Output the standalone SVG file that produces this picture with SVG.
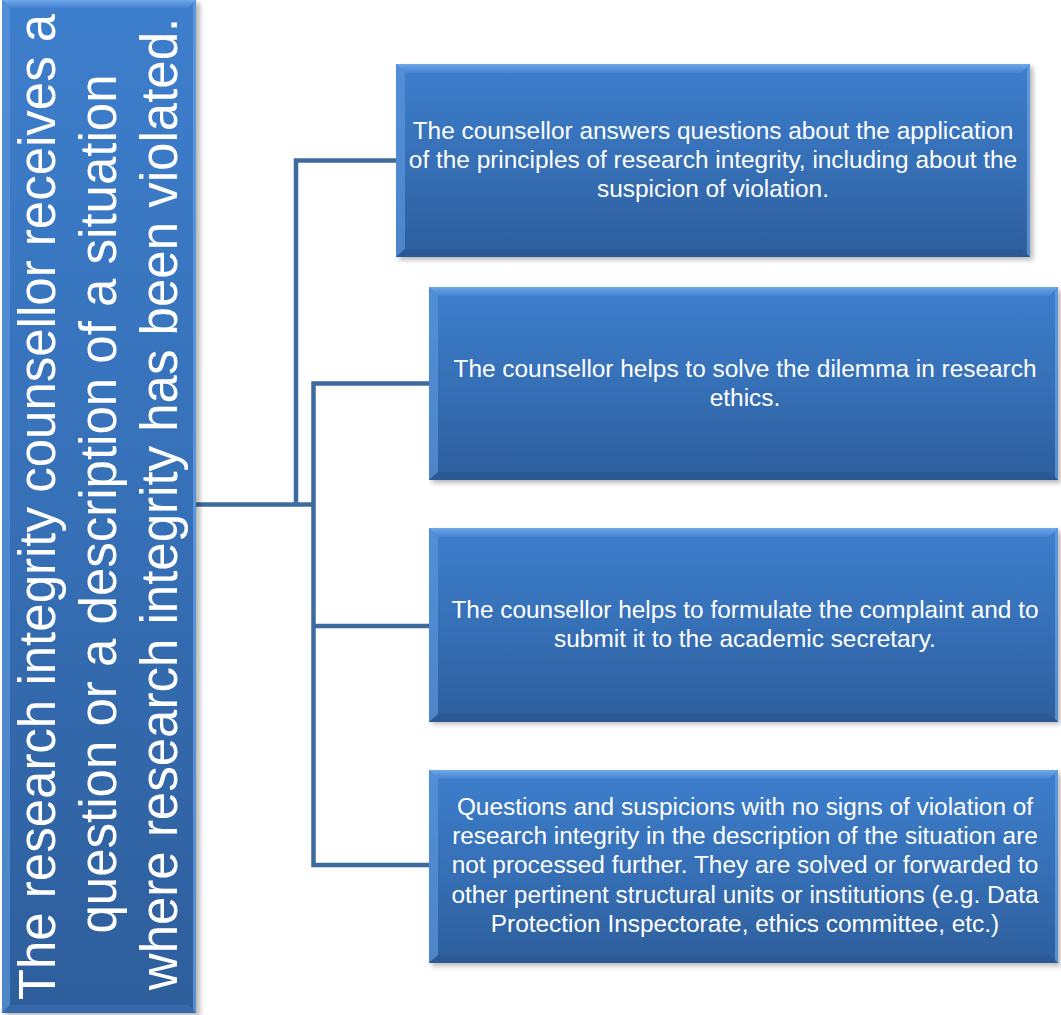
<svg xmlns="http://www.w3.org/2000/svg" width="1061" height="1015" viewBox="0 0 1061 1015">
<style>
.body{fill:url(#gBody)}
.bt{fill:url(#gTop)}
.bl{fill:#5b96dc;opacity:0.7}
.br{fill:#6aa3e6;opacity:0.7}
.bb{fill:#2b5791;opacity:0.75}
.sh{fill:#000;opacity:0.28;filter:url(#blur)}
.lbl{font-family:"Liberation Sans",Arial,sans-serif;font-size:24.4px;fill:#ffffff;text-anchor:middle}
.big{font-family:"Liberation Sans",Arial,sans-serif;font-size:51px;fill:#ffffff;text-anchor:middle}
.con{fill:none;stroke:#3e6b9f;stroke-width:4.5;stroke-linejoin:miter;stroke-linecap:butt}
</style>
<defs>
<linearGradient id="gBody" x1="0" y1="0" x2="0" y2="1">
<stop offset="0" stop-color="#3d7ecc"/>
<stop offset="0.5" stop-color="#3670b7"/>
<stop offset="1" stop-color="#2e5e9c"/>
</linearGradient>
<linearGradient id="gTop" x1="0" y1="0" x2="0" y2="1">
<stop offset="0" stop-color="#6fa8ea"/>
<stop offset="1" stop-color="#4584d2"/>
</linearGradient>
<filter id="blur" x="-5%" y="-5%" width="110%" height="110%">
<feGaussianBlur stdDeviation="2.5"/>
</filter>
</defs>

<g id="connectors">
<path class="con" d="M196,504.5 H313.5"/>
<path class="con" d="M296,504.5 V160.5 H396"/>
<path class="con" d="M429,383.5 H313.5 V865 H429"/>
<path class="con" d="M313.5,626 H429"/>
</g>

<g id="node-source">
<rect class="sh" x="5" y="3" width="195" height="1013"/>
<rect class="body" x="2" y="0" width="194" height="1013"/>
<polygon class="bt" points="2,0 196,0 188,8 10,8"/>
<polygon class="bl" points="2,0 10,8 10,1005 2,1013"/>
<polygon class="br" points="196,0 196,1013 193,1010 193,3"/>
<polygon class="bb" points="2,1013 10,1005 188,1005 196,1013" style="fill:#3a6eb0"/>
<g transform="rotate(-90)">
<text class="big" x="-507" y="55">The research integrity counsellor receives a</text>
<text class="big" x="-504" y="116">question or a description of a situation</text>
<text class="big" x="-504" y="177">where research integrity has been violated.</text>
</g>
</g>

<g id="node-1">
<rect class="sh" x="399" y="67" width="634" height="193"/>
<rect class="body" x="396" y="64" width="634" height="193"/>
<polygon class="bt" points="396,64 1030,64 1021,73 405,73"/>
<polygon class="bl" points="396,64 405,73 405,249 396,257"/>
<polygon class="br" points="1030,64 1030,257 1027,254 1027,67"/>
<polygon class="bb" points="396,257 405,249 1021,249 1030,257"/>
<text class="lbl" x="713" y="139">The counsellor answers questions about the application</text>
<text class="lbl" x="713" y="168">of the principles of research integrity, including about the</text>
<text class="lbl" x="713" y="197">suspicion of violation.</text>
</g>

<g id="node-2">
<rect class="sh" x="432" y="290" width="629" height="193"/>
<rect class="body" x="429" y="287" width="629" height="193"/>
<polygon class="bt" points="429,287 1058,287 1049,296 438,296"/>
<polygon class="bl" points="429,287 438,296 438,472 429,480"/>
<polygon class="br" points="1058,287 1058,480 1055,477 1055,290"/>
<polygon class="bb" points="429,480 438,472 1049,472 1058,480"/>
<text class="lbl" x="745" y="377">The counsellor helps to solve the dilemma in research</text>
<text class="lbl" x="745" y="406">ethics.</text>
</g>

<g id="node-3">
<rect class="sh" x="432" y="531" width="629" height="193"/>
<rect class="body" x="429" y="528" width="629" height="194"/>
<polygon class="bt" points="429,528 1058,528 1049,537 438,537"/>
<polygon class="bl" points="429,528 438,537 438,714 429,722"/>
<polygon class="br" points="1058,528 1058,722 1055,719 1055,531"/>
<polygon class="bb" points="429,722 438,714 1049,714 1058,722"/>
<text class="lbl" x="745" y="618">The counsellor helps to formulate the complaint and to</text>
<text class="lbl" x="745" y="647">submit it to the academic secretary.</text>
</g>

<g id="node-4">
<rect class="sh" x="432" y="773" width="629" height="193"/>
<rect class="body" x="429" y="770" width="629" height="193"/>
<polygon class="bt" points="429,770 1058,770 1049,779 438,779"/>
<polygon class="bl" points="429,770 438,779 438,955 429,963"/>
<polygon class="br" points="1058,770 1058,963 1055,960 1055,773"/>
<polygon class="bb" points="429,963 438,955 1049,955 1058,963"/>
<text class="lbl" x="745" y="815">Questions and suspicions with no signs of violation of</text>
<text class="lbl" x="745" y="844">research integrity in the description of the situation are</text>
<text class="lbl" x="745" y="873">not processed further. They are solved or forwarded to</text>
<text class="lbl" x="745" y="903">other pertinent structural units or institutions (e.g. Data</text>
<text class="lbl" x="745" y="932">Protection Inspectorate, ethics committee, etc.)</text>
</g>
</svg>
